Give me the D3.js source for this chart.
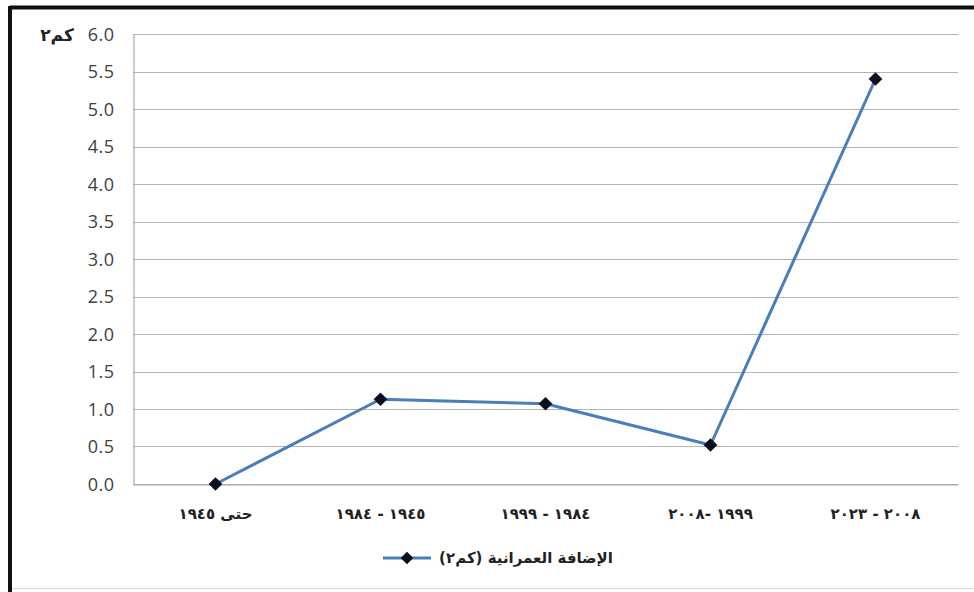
<!DOCTYPE html>
<html>
<head>
<meta charset="utf-8">
<script src="https://cdn.jsdelivr.net/npm/d3@7"></script>
<style>
  html, body { margin: 0; padding: 0; background: #fff; }
  svg { display: block; }
</style>
</head>
<body>
<svg id="chart" width="974" height="592"></svg>
<script>
// Urban expansion area per period (km²)
const periods = ["حتى ١٩٤٥", "١٩٤٥ - ١٩٨٤", "١٩٨٤ - ١٩٩٩", "١٩٩٩ -٢٠٠٨", "٢٠٠٨ - ٢٠٢٣"];
const addedArea = [0.0, 1.13, 1.07, 0.52, 5.40];
const yTicks = [0, 0.5, 1, 1.5, 2, 2.5, 3, 3.5, 4, 4.5, 5, 5.5, 6];
const seriesName = "الإضافة العمرانية  (كم٢)";
const unitLabel = "كم٢";

const svg = d3.select("#chart");
const W = 974, H = 592;
const plot = { left: 133, right: 958, top: 34, bottom: 484 };

// frame around the chart
svg.append("rect").attr("x", 0).attr("y", 0).attr("width", W).attr("height", H).attr("fill", "#fff");
svg.append("line").attr("x1", 10).attr("x2", W).attr("y1", 7.5).attr("y2", 7.5)
  .attr("stroke", "#111").attr("stroke-width", 4);
svg.append("line").attr("x1", 10).attr("x2", 10).attr("y1", 6).attr("y2", H)
  .attr("stroke", "#111").attr("stroke-width", 4);
svg.append("line").attr("x1", 12).attr("x2", W).attr("y1", 588.5).attr("y2", 588.5)
  .attr("stroke", "#d8d8d8").attr("stroke-width", 1);

const x = d3.scaleBand().domain(periods).range([plot.left, plot.right]).padding(0);
const y = d3.scaleLinear().domain([0, 6]).range([plot.bottom, plot.top]);

// horizontal gridlines
svg.append("g")
  .selectAll("line")
  .data(yTicks)
  .join("line")
  .attr("x1", plot.left).attr("x2", plot.right)
  .attr("y1", d => Math.round(y(d)) + 0.5).attr("y2", d => Math.round(y(d)) + 0.5)
  .attr("stroke", "#b4b4b4").attr("stroke-width", 1.2);

// y axis
const yAxis = svg.append("g")
  .attr("transform", `translate(${plot.left + 0.5},0)`)
  .call(d3.axisLeft(y).tickValues(yTicks).tickFormat(d3.format(".1f")).tickSize(0).tickPadding(19));
yAxis.select(".domain").attr("stroke", "#a8a8a8").attr("stroke-width", 1.2);
yAxis.selectAll("text")
  .attr("font-family", "'Open Sans', 'Noto Sans', sans-serif")
  .attr("font-size", 18)
  .attr("letter-spacing", 0.5)
  .attr("dy", "0.34em")
  .attr("fill", "#404040");

// x axis (category labels)
const xAxis = svg.append("g")
  .attr("transform", `translate(0,${Math.round(plot.bottom) + 0.5})`)
  .call(d3.axisBottom(x).tickSize(0).tickPadding(24));
xAxis.select(".domain").attr("stroke", "#a8a8a8").attr("stroke-width", 1.2);
xAxis.selectAll("text")
  .attr("font-family", "'DejaVu Sans', sans-serif")
  .attr("font-weight", "bold")
  .attr("font-size", 15)
  .attr("letter-spacing", 2.5)
  .attr("fill", "#222");

// unit label beside the top tick
svg.append("text")
  .attr("x", 57).attr("y", y(6) + 7)
  .attr("text-anchor", "middle")
  .attr("font-family", "'DejaVu Sans', sans-serif")
  .attr("font-weight", "bold")
  .attr("font-size", 17)
  .attr("fill", "#222")
  .text(unitLabel);

// data line
const cx = d => x(d) + x.bandwidth() / 2;
const line = d3.line().x((d, i) => cx(periods[i])).y(d => y(d));
svg.append("path")
  .datum(addedArea)
  .attr("d", line)
  .attr("fill", "none")
  .attr("stroke", "#4a7ebb")
  .attr("stroke-width", 3)
  .attr("stroke-linejoin", "round");

const diamond = d3.symbol().type(d3.symbolDiamond2).size(120);
svg.append("g")
  .selectAll("path")
  .data(addedArea)
  .join("path")
  .attr("transform", (d, i) => `translate(${cx(periods[i])},${y(d)})`)
  .attr("d", diamond)
  .attr("fill", "#0a0f1e");

// legend
const lg = svg.append("g").attr("transform", "translate(383,558)");
lg.append("line").attr("x1", 0).attr("x2", 48).attr("y1", 0).attr("y2", 0)
  .attr("stroke", "#4a7ebb").attr("stroke-width", 3);
lg.append("path").attr("transform", "translate(24,0)")
  .attr("d", d3.symbol().type(d3.symbolDiamond2).size(100)).attr("fill", "#0a0f1e");
lg.append("text")
  .attr("x", 143).attr("y", 5)
  .attr("text-anchor", "middle")
  .attr("direction", "rtl")
  .style("direction", "rtl")
  .style("unicode-bidi", "embed")
  .attr("font-family", "'DejaVu Sans', sans-serif")
  .attr("font-weight", "bold")
  .attr("font-size", 15)
  .attr("fill", "#222")
  .text(seriesName);
</script>
</body>
</html>
